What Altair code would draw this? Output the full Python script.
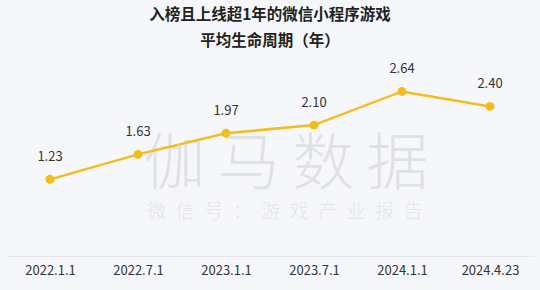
import altair as alt
import pandas as pd

dates = ["2022.1.1", "2022.7.1", "2023.1.1", "2023.7.1", "2024.1.1", "2024.4.23"]
values = [1.23, 1.63, 1.97, 2.10, 2.64, 2.40]
labels = ["1.23", "1.63", "1.97", "2.10", "2.64", "2.40"]

df = pd.DataFrame({"date": dates, "value": values, "label": labels})

FONT = "Noto Sans CJK SC"
GOLD = "#F5BD1C"

x = alt.X("date:N", sort=dates, title=None,
          scale=alt.Scale(type="point", padding=0.5),
          axis=alt.Axis(labelAngle=0, ticks=False, domainColor="#e6e8ee",
                        labelFontSize=13, labelColor="#333333", labelFont=FONT,
                        labelPadding=8, grid=False))
y = alt.Y("value:Q", scale=alt.Scale(domain=[0, 3]), axis=None)

base = alt.Chart(df)

wm = alt.Chart(pd.DataFrame({"t": ["\u2009".join("伽马数据")]})).mark_text(
    font=FONT, fontSize=62, fontWeight=300, color="#e0e1e7", baseline="middle"
).encode(text="t:N", x=alt.value(280), y=alt.value(97))

wm2 = alt.Chart(pd.DataFrame({"t": ["\u2002".join("微信号：游戏产业报告")]})).mark_text(
    font=FONT, fontSize=19, fontWeight=300, color="#e3e4e9", baseline="middle"
).encode(text="t:N", x=alt.value(279), y=alt.value(143))

line = base.mark_line(color=GOLD, strokeWidth=2.5).encode(x=x, y=y)
pts = base.mark_circle(color=GOLD, size=80, opacity=1).encode(x=x, y=y)
txt = base.mark_text(font=FONT, fontSize=13, color="#333333", dy=-22).encode(
    x=x, y=y, text="label:N")

chart = alt.layer(wm, wm2, line, pts, txt).properties(
    width=528, height=187,
    padding={"left": 6, "top": 69, "right": 6, "bottom": 34},
    autosize=alt.AutoSizeParams(type="none"),
    background="#f6f7fb",
    title=alt.TitleParams(
        text=["入榜且上线超1年的微信小程序游戏", "平均生命周期（年）"],
        font=FONT, fontSize=15.5, fontWeight="bold", color="#222222",
        lineHeight=26, anchor="middle", offset=14),
).configure_view(stroke=None)

chart.save("out.html", embed_options={"renderer": "svg", "actions": False})
